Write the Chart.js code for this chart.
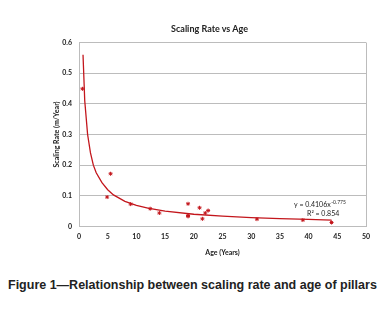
<!DOCTYPE html>
<html>
<head>
<meta charset="utf-8">
<script src="https://cdn.jsdelivr.net/npm/chart.js@4"></script>
<style>
  body { margin: 0; background: #fff; width: 385px; height: 312px; position: relative; overflow: hidden; }
  #chartTitle { position: absolute; top: 23px; left: 0; width: 419px; text-align: center;
    font: bold 9px Lato, sans-serif; color: #222; }
  #caption { position: absolute; top: 278px; left: 8px; white-space: nowrap;
    font: bold 12.5px "Liberation Sans", Arial, sans-serif; color: #222; }
  canvas { position: absolute; left: 0; top: 0; }
</style>
</head>
<body>
<canvas id="scalingChart" width="385" height="262"></canvas>
<div id="chartTitle">Scaling Rate vs Age</div>
<div id="caption">Figure 1—Relationship between scaling rate and age of pillars</div>
<script>
// measured pillars
const ageYears = [0.6, 4.9, 5.5, 9, 12.4, 14, 19, 19, 19, 21, 21.5, 22, 22.5, 31, 39, 44];
const scalingRate = [0.449, 0.096, 0.172, 0.073, 0.058, 0.044, 0.074, 0.036, 0.033, 0.061, 0.025, 0.044, 0.052, 0.024, 0.021, 0.013];

// power trendline
const trendAge = [0.7, 1, 1.5, 2, 2.5, 3, 4, 5, 6, 8, 10, 12, 15, 20, 25, 30, 35, 40, 44];
const trendRate = [0.56, 0.41, 0.30, 0.24, 0.20, 0.175, 0.143, 0.12, 0.103, 0.082, 0.069, 0.060, 0.050, 0.040, 0.034, 0.029, 0.026, 0.023, 0.021];

const xTicks = [0, 5, 10, 15, 20, 25, 30, 35, 40, 45, 50];
const yTicks = [0, 0.1, 0.2, 0.3, 0.4, 0.5, 0.6];

const lineGray = '#bcbcbc';
const red = '#c3161c';
const tickFont = { family: 'Lato', size: 7, weight: 'bold' };

// equation label of the trendline
const equationLabel = {
    id: 'equationLabel',
    afterDatasetsDraw(chart) {
        const ctx = chart.ctx;
        ctx.save();
        ctx.fillStyle = '#222';
        ctx.textBaseline = 'middle';
        ctx.font = '7px Lato';
        ctx.fillText('y = 0.4106x', 294, 205);
        const w = ctx.measureText('y = 0.4106x').width;
        ctx.font = '5px Lato';
        ctx.fillText('-0.775', 294 + w + 0.5, 202.5);
        ctx.font = '7px Lato';
        ctx.fillText('R² = 0.854', 307, 214);
        ctx.restore();
    }
};

const ctx = document.getElementById('scalingChart').getContext('2d');
new Chart(ctx, {
    type: 'scatter',
    data: {
        datasets: [{
            label: 'Scaling rate',
            data: ageYears.map((a, i) => ({ x: a, y: scalingRate[i] })),
            pointStyle: 'star',
            radius: 2,
            borderWidth: 1,
            borderColor: red,
            backgroundColor: red,
            order: 1
        }, {
            label: 'Power trend',
            type: 'line',
            data: trendAge.map((a, i) => ({ x: a, y: trendRate[i] })),
            borderColor: red,
            borderWidth: 1.3,
            pointRadius: 0,
            tension: 0,
            fill: false,
            order: 2
        }]
    },
    options: {
        responsive: false,
        animation: false,
        events: [],
        layout: { padding: { left: 0, right: 19, top: 42.5, bottom: 0 } },
        plugins: {
            legend: { display: false },
            title: { display: false },
            tooltip: { enabled: false }
        },
        scales: {
            x: {
                type: 'linear',
                min: 0,
                max: 50,
                afterBuildTicks: s => { s.ticks = xTicks.map(v => ({ value: v })); },
                afterFit: s => { s.height = 35.5; },
                border: { display: false },
                grid: {
                    drawTicks: false,
                    lineWidth: 1,
                    color: c => (c.tick && (c.tick.value === 0 || c.tick.value === 50)) ? lineGray : 'rgba(0,0,0,0)'
                },
                ticks: { color: '#222', font: tickFont, padding: 6, maxRotation: 0 },
                title: {
                    display: true,
                    text: 'Age (Years)',
                    color: '#222',
                    font: tickFont,
                    padding: { top: 0, bottom: 4.8 }
                }
            },
            y: {
                min: 0,
                max: 0.6,
                afterBuildTicks: s => { s.ticks = yTicks.map(v => ({ value: v })); },
                afterFit: s => { s.width = 79; },
                border: { display: false },
                grid: { drawTicks: false, color: lineGray, lineWidth: 1 },
                ticks: {
                    color: '#222',
                    font: tickFont,
                    padding: 7,
                    callback: v => String(Math.round(v * 10) / 10)
                },
                title: {
                    display: true,
                    text: 'Scaling Rate (m/Year)',
                    color: '#222',
                    font: tickFont,
                    padding: { top: 52.8, bottom: 0 }
                }
            }
        }
    },
    plugins: [equationLabel]
});
</script>
</body>
</html>
